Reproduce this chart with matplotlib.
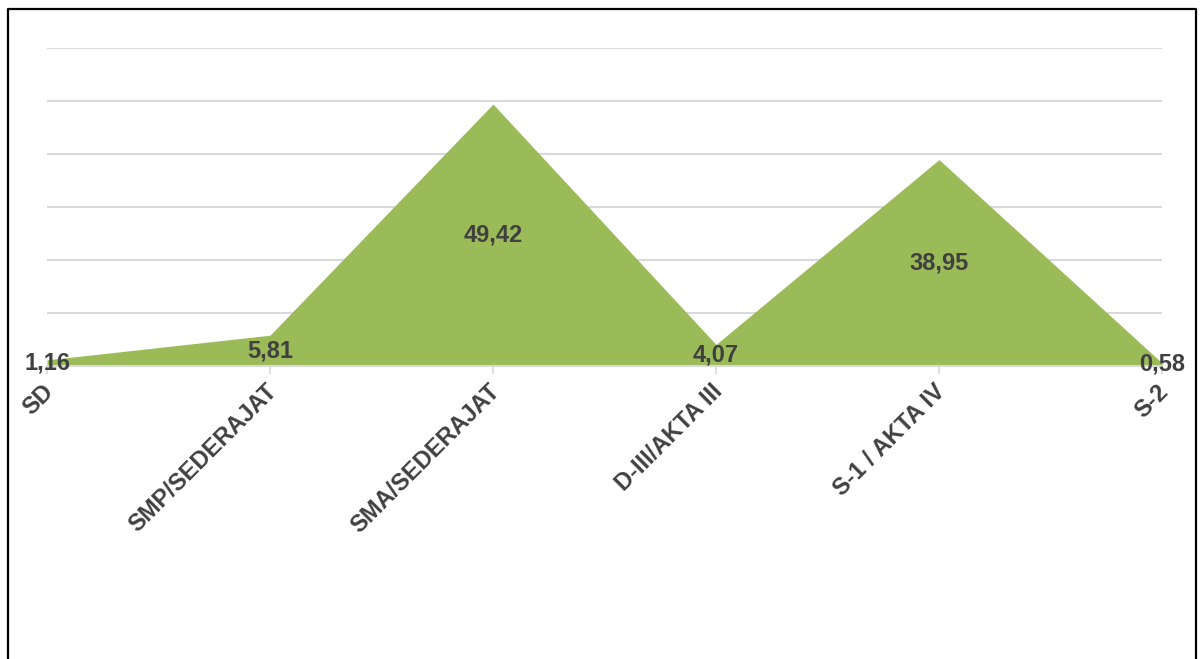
import matplotlib.pyplot as plt
import matplotlib.transforms as mtransforms
from matplotlib.lines import Line2D

# data
categories = ["SD", "SMP/SEDERAJAT", "SMA/SEDERAJAT", "D-III/AKTA III", "S-1 / AKTA IV", "S-2"]
values = [1.16, 5.81, 49.42, 4.07, 38.95, 0.58]
value_labels = ["1,16", "5,81", "49,42", "4,07", "38,95", "0,58"]

W, H = 1203, 659
fig = plt.figure(figsize=(W / 100, H / 100), dpi=100)
ax = fig.add_axes([47 / W, 1 - 366 / H, (1162 - 47) / W, (366 - 48) / H])

x = list(range(len(categories)))
ax.fill_between(x, values, 0, color="#9BBB59", linewidth=0, zorder=2)

ax.set_xlim(0, len(categories) - 1)
ax.set_ylim(0, 60)
ax.set_yticks(range(0, 61, 10))
ax.yaxis.grid(True, color="#d9d9d9", linewidth=1.5, zorder=0)
ax.tick_params(axis="y", left=False, labelleft=False)
for s in ["top", "right", "left"]:
    ax.spines[s].set_visible(False)
ax.spines["bottom"].set_color("#d9d9d9")
ax.spines["bottom"].set_linewidth(1.5)
ax.spines["bottom"].set_zorder(3)

ax.set_xticks(x)
ax.set_xticklabels(categories, rotation=45, ha="right", rotation_mode="anchor",
                   fontsize=17, fontweight="bold", color="#404040", family="Liberation Sans")
ax.tick_params(axis="x", length=6, width=1.2, color="#d9d9d9", pad=4)
shift = mtransforms.ScaledTranslation(-5 / 100, 0, fig.dpi_scale_trans)
for lbl in ax.get_xticklabels():
    lbl.set_transform(lbl.get_transform() + shift)

for xi, v, lab in zip(x, values, value_labels):
    ax.text(xi, v / 2, lab, ha="center", va="center", fontsize=17, fontweight="bold",
            color="#404040", family="Liberation Sans", zorder=5, clip_on=False)

# outer frame (open at the bottom)
fig.add_artist(Line2D([8 / W, 8 / W, 1196 / W, 1196 / W],
                      [-0.05, 1 - 8.5 / H, 1 - 8.5 / H, -0.05],
                      transform=fig.transFigure, color="black", linewidth=1.6))

fig.savefig("out.png", dpi=100)
